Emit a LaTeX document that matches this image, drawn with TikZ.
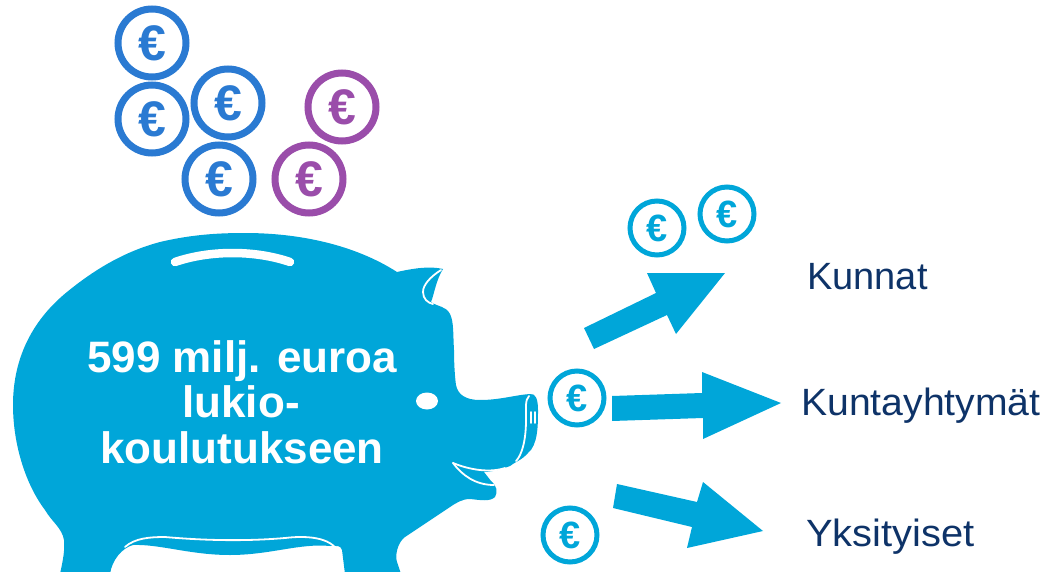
\documentclass[tikz,border=0pt]{standalone}
\usepackage{fontspec}
\setmainfont{Liberation Sans}
\definecolor{pigblue}{HTML}{00A6D9}
\definecolor{coinblue}{HTML}{2A7AD2}
\definecolor{coinpurple}{HTML}{9A4DAA}
\definecolor{navy}{HTML}{0E3368}
\tikzset{
  coinbig/.style={circle,draw=#1,line width=7pt,minimum size=68pt,inner sep=0pt,text=#1,font=\fontsize{50}{50}\selectfont\bfseries},
  coinsmall/.style={circle,draw=pigblue,line width=5pt,minimum size=54pt,inner sep=0pt,text=pigblue,font=\fontsize{38}{38}\selectfont\bfseries},
  label/.style={text=navy,font=\fontsize{38}{38}\selectfont,inner sep=0pt,anchor=base west},
  bodytext/.style={text=white,font=\fontsize{44}{44}\selectfont\bfseries,inner sep=0pt,anchor=base},
  whiteline/.style={draw=white,line width=1.8pt,line cap=round},
  arrowshape/.style={fill=pigblue,draw=none}
}
\begin{document}
\begin{tikzpicture}[x=1pt,y=-1pt]
\useasboundingbox (0,0) rectangle (1049,572);
\begin{scope}
\clip (0,0) rectangle (1049,572);
% body
\fill[pigblue] (60,574) .. controls (63,560) and (65,550) .. (64,540)
 .. controls (62,528) and (52,522) .. (45,510)
 .. controls (26,485) and (13,445) .. (13,405)
 .. controls (13,355) and (35,318) .. (67,292)
 .. controls (100,265) and (130,250) .. (160,242)
 .. controls (190,235) and (215,233) .. (245,233)
 .. controls (300,233) and (355,245) .. (397,272)
 .. controls (415,268) and (430,266) .. (443,269)
 .. controls (436,280) and (434,295) .. (431,302)
 .. controls (438,307) and (446,306) .. (450,314)
 .. controls (454,322) and (453,335) .. (454,350)
 .. controls (454,365) and (455,378) .. (456,385)
 .. controls (458,395) and (466,400) .. (480,400)
 .. controls (500,400) and (515,395) .. (530,394)
 .. controls (536,393) and (538,400) .. (538,410)
 .. controls (538,425) and (538,445) .. (528,453)
 .. controls (522,460) and (515,462) .. (510,466)
 .. controls (500,470) and (490,472) .. (484,472)
 -- (491,481)
 .. controls (497,486) and (498,492) .. (495,497)
 .. controls (490,502) and (480,500) .. (470,499)
 .. controls (462,499) and (456,503) .. (450,507)
 -- (405,537)
 .. controls (397,543) and (395,556) .. (397,562)
 -- (401,574)
 -- (345,574)
 -- (342,550)
 .. controls (340,545) and (338,546) .. (330,546)
 .. controls (300,543) and (270,555) .. (230,555)
 .. controls (190,555) and (160,544) .. (133,545)
 .. controls (122,548) and (112,560) .. (110,574)
 -- cycle;
% slot
\draw[white,line width=8.5pt,line cap=round] (175,262) .. controls (210,250) and (255,250) .. (290,262);
% ear line
\draw[whiteline] (441,270) .. controls (430,277) and (423,285) .. (423,292)
 .. controls (423,299) and (428,303) .. (433,304);
% eye
\fill[white] (427,401) ellipse [x radius=11pt,y radius=8.5pt];
% snout lines
\draw[whiteline] (529,396) .. controls (525,400) and (526,408) .. (526,420)
 .. controls (526,440) and (522,455) .. (516,461);
\draw[whiteline] (531,412) -- (531,423);
\draw[whiteline] (535,412) -- (535,423);
% mouth
\draw[whiteline] (453,463) .. controls (470,470) and (490,473) .. (505,468);
\draw[whiteline] (453,463) .. controls (462,475) and (475,485) .. (494,485);
% belly line
\draw[whiteline] (125,547) .. controls (135,538) and (150,537) .. (165,537)
 .. controls (210,541) and (250,541) .. (285,538)
 .. controls (310,535) and (335,538) .. (340,556);
\end{scope}
% text on body
\node (t1) [bodytext] at (242,372) {599 milj. euroa};
\node (t2) [bodytext] at (241,417) {lukio-};
\node (t3) [bodytext] at (242,463) {koulutukseen};
% coins
\node (c1) [coinbig=coinblue] at (152,43) {€};
\node (c2) [coinbig=coinblue] at (152,119) {€};
\node (c3) [coinbig=coinblue] at (228,103) {€};
\node (c4) [coinbig=coinblue] at (219,179) {€};
\node (c5) [coinbig=coinpurple] at (342,107) {€};
\node (c6) [coinbig=coinpurple] at (309,179) {€};
\node (c7) [coinsmall] at (657,228) {€};
\node (c8) [coinsmall] at (727,214) {€};
\node (c9) [coinsmall] at (577,398) {€};
\node (c10) [coinsmall] at (570,535) {€};
% arrows
\fill[arrowshape] (584,328) -- (656,293) -- (647,273) -- (725,273) -- (676,334) -- (667,315) -- (594,349) -- cycle;
\fill[arrowshape] (612,396) -- (702,393) -- (702,372) -- (781,403) -- (703,439) -- (703,418) -- (612,421) -- cycle;
\fill[arrowshape] (617,484) -- (697,502) -- (703,482) -- (763,531) -- (687,548) -- (692,527) -- (613,508) -- cycle;
% labels
\node (l1) [label] at (807,289) {Kunnat};
\node (l2) [label,xscale=1.03] at (801,415) {Kuntayhtymät};
\node (l3) [label,xscale=1.05] at (806,546) {Yksityiset};
\end{tikzpicture}
\end{document}
